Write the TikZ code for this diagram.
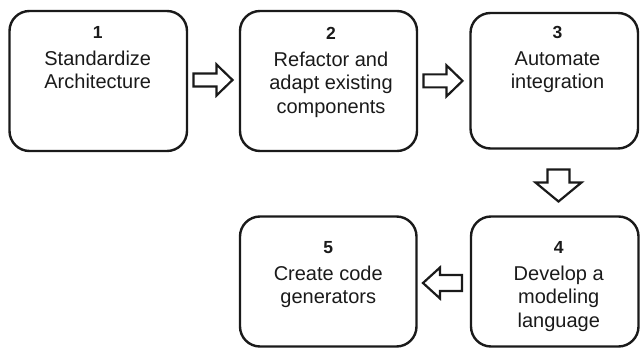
\documentclass[tikz,border=0pt]{standalone}
\usepackage{fontspec}
\setmainfont{Liberation Sans}
\usetikzlibrary{calc}
\definecolor{ink}{HTML}{1A1A1A}
\newcommand\numfont{\fontsize{17.5}{23.5}\selectfont\bfseries}
\begin{document}
\begin{tikzpicture}[x=1pt,y=1pt,
  stepbox/.style={draw=ink, line width=2.4pt, rounded corners=20pt, inner sep=0pt},
  steptext/.style={anchor=north, align=center, inner sep=0pt, text=ink,
    font=\fontsize{20}{23.5}\selectfont},
  arrowline/.style={draw=ink, line width=2.2pt, line join=miter},
  % block arrow pointing along +x: length, head length, half head width, half shaft width
  pics/blockarrow/.style n args={4}{code={
    \draw[arrowline] (0,#4) -- ({#1-#2},#4) -- ({#1-#2},#3) -- (#1,0)
      -- ({#1-#2},-#3) -- ({#1-#2},-#4) -- (0,-#4) -- cycle;}}
]
\useasboundingbox (0,0) rectangle (640,348);

% step boxes
\node[stepbox, minimum width=177.5pt, minimum height=140pt] (b1) at (98.25,267) {};
\node[stepbox, minimum width=177pt, minimum height=140pt] (b2) at (328.5,267) {};
\node[stepbox, minimum width=167.5pt, minimum height=135.5pt] (b3) at (554.25,267.25) {};
\node[stepbox, minimum width=167.5pt, minimum height=130pt] (b4) at (554.75,66.5) {};
\node[stepbox, minimum width=176.5pt, minimum height=130pt] (b5) at (328.25,66.5) {};

% step labels
\node[steptext] (t1) at ($(b1.north)+(-0.5,-16)$) {{\numfont 1}\\[3.5pt]Standardize\\Architecture};
\node[steptext] (t2) at ($(b2.north)+(2.5,-17)$) {{\numfont 2}\\[3.5pt]Refactor and\\adapt existing\\components};
\node[steptext] (t3) at ($(b3.north)+(3.25,-14)$) {{\numfont 3}\\[3.5pt]Automate\\integration};
\node[steptext] (t4) at ($(b4.north)+(4,-25.5)$) {{\numfont 4}\\[3.5pt]Develop a\\modeling\\language};
\node[steptext] (t5) at ($(b5.north)+(0,-25.5)$) {{\numfont 5}\\[3.5pt]Create code\\generators};

% block arrows between the steps
\coordinate (m12) at ($(b1.east)!0.5!(b2.west)$);
\coordinate (m23) at ($(b2.east)!0.5!(b3.west)$);
\coordinate (m34) at ($(b3.south)!0.5!(b4.north)$);
\coordinate (m45) at ($(b4.west)!0.5!(b5.east)$);
\pic at ($(m12)+(-20,1)$) {blockarrow={39}{16}{15.5}{6.5}};
\pic at ($(m23)+(-20.25,0)$) {blockarrow={39}{16}{15.5}{6.5}};
\pic[rotate=-90] at ($(m34)+(4,13)$) {blockarrow={32}{19}{23}{11}};
\pic[rotate=180] at ($(m45)+(18.25,-1.5)$) {blockarrow={39}{17}{15.5}{8}};
\end{tikzpicture}
\end{document}
